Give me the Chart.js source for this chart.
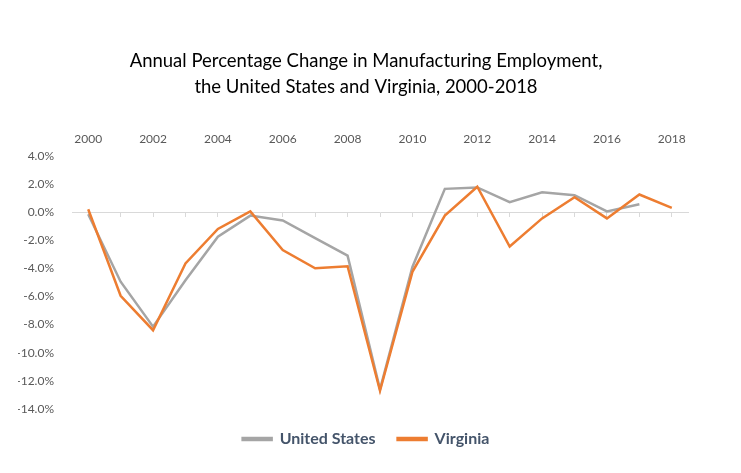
<!DOCTYPE html>
<html lang="en">
<head>
    <meta charset="UTF-8">
    <title>Manufacturing Employment Change</title>
    <script src="https://cdn.jsdelivr.net/npm/chart.js"></script>
    <style>
        body { margin: 0; background: #fff; }
        #myChart { display: block; }
    </style>
</head>
<body>
    <canvas id="myChart" width="741" height="473"></canvas>
    <script>
        // 데이터
        const years = ['2000', '2001', '2002', '2003', '2004', '2005', '2006', '2007', '2008', '2009',
                       '2010', '2011', '2012', '2013', '2014', '2015', '2016', '2017', '2018'];
        const unitedStates = [-0.15, -4.95, -8.15, -4.85, -1.75, -0.25, -0.6, -1.85, -3.1, -12.6,
                              -3.9, 1.65, 1.75, 0.7, 1.4, 1.2, 0.05, 0.55, null];
        const virginia = [0.2, -5.95, -8.4, -3.65, -1.2, 0.05, -2.7, -4.0, -3.85, -12.7,
                          -4.25, -0.25, 1.8, -2.45, -0.45, 1.05, -0.45, 1.25, 0.3];
        const yTicks = { min: -14, max: 4, step: 2 };

        const labelColor = '#595959';
        const font = 'Lato';

        const ctx = document.getElementById('myChart').getContext('2d');
        const myChart = new Chart(ctx, {
            type: 'line',
            data: {
                labels: years,
                datasets: [{
                    label: 'United States',
                    data: unitedStates,
                    borderColor: '#A5A5A5',
                    backgroundColor: '#A5A5A5',
                    borderWidth: 2.5,
                    pointRadius: 0,
                    order: 2
                }, {
                    label: 'Virginia',
                    data: virginia,
                    borderColor: '#ED7D31',
                    backgroundColor: '#ED7D31',
                    borderWidth: 2.5,
                    pointRadius: 0,
                    order: 1
                }]
            },
            options: {
                responsive: false,
                animation: false,
                layout: { padding: { top: 10, left: 18, right: 27, bottom: 16 } },
                plugins: {
                    title: {
                        display: true,
                        text: ['Annual Percentage Change in Manufacturing Employment,',
                               'the United States and Virginia, 2000-2018'],
                        color: '#000',
                        font: { family: font, size: 18.5, weight: 'normal', lineHeight: 1.4 },
                        padding: { top: 38, bottom: 20 }
                    },
                    legend: {
                        position: 'bottom',
                        labels: {
                            boxWidth: 29,
                            boxHeight: 2,
                            padding: 22,
                            color: '#44546A',
                            font: { family: font, size: 16, weight: 'bold' },
                            sort: (a, b) => a.datasetIndex - b.datasetIndex
                        }
                    },
                    tooltip: { enabled: false }
                },
                scales: {
                    x: {
                        type: 'category',
                        position: { y: 0 },
                        offset: true,
                        grid: {
                            drawOnChartArea: false,
                            drawTicks: true,
                            tickLength: 4,
                            color: '#D9D9D9'
                        },
                        border: { color: '#D9D9D9', width: 1 },
                        ticks: { display: false }
                    },
                    x2: {
                        type: 'category',
                        position: 'top',
                        labels: years,
                        offset: true,
                        grid: { display: false },
                        border: { display: false },
                        ticks: {
                            autoSkip: false,
                            maxRotation: 0,
                            padding: 1,
                            color: labelColor,
                            font: { family: font, size: 12 },
                            callback: function (val, i) {
                                return i % 2 === 0 ? this.getLabelForValue(val) : '';
                            }
                        },
                        afterFit: scale => { scale.height = 36; }
                    },
                    y: {
                        min: yTicks.min,
                        max: yTicks.max,
                        grid: { display: false },
                        border: { display: false },
                        ticks: {
                            stepSize: yTicks.step,
                            padding: 10,
                            color: labelColor,
                            font: { family: font, size: 12 },
                            callback: v => v.toFixed(1) + '%'
                        },
                        afterFit: scale => { scale.width = 54; }
                    },
                    // 오른쪽 여백용 빈 축
                    yRight: {
                        position: 'right',
                        min: yTicks.min,
                        max: yTicks.max,
                        grid: { display: false },
                        border: { display: false },
                        ticks: { display: false },
                        afterFit: scale => { scale.width = 26; }
                    }
                }
            }
        });
    </script>
</body>
</html>
